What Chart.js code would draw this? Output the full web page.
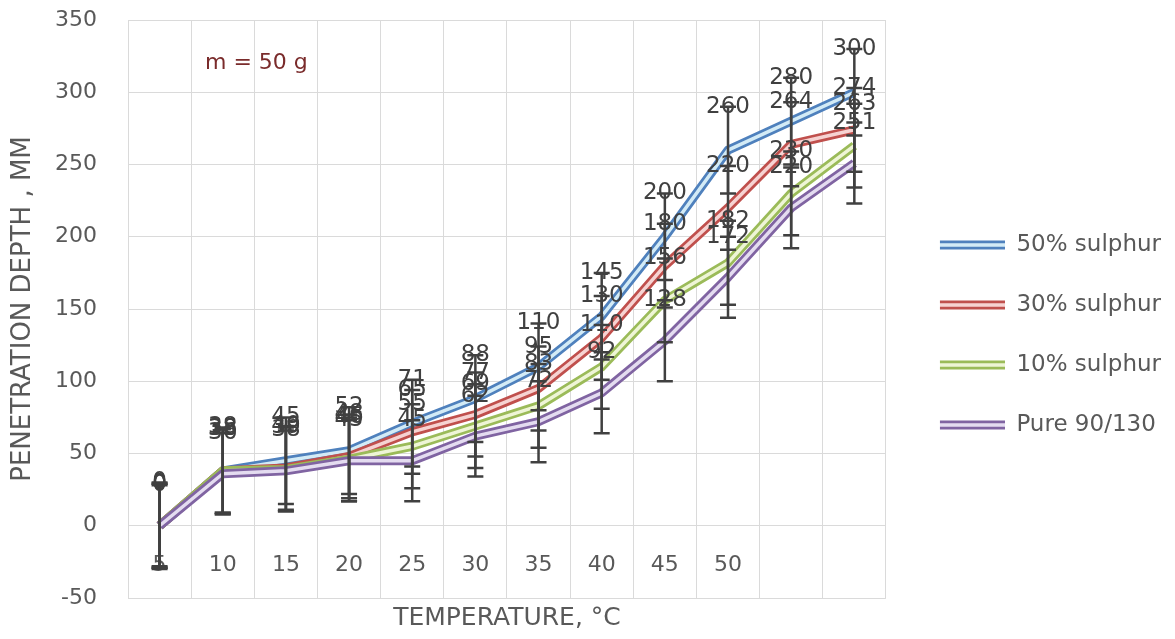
<!DOCTYPE html>
<html>
<head>
<meta charset="utf-8">
<script src="https://cdn.jsdelivr.net/npm/chart.js@4.4.1/dist/chart.umd.min.js"></script>
<style>
    html, body { margin: 0; padding: 0; background: #ffffff; }
</style>
</head>
<body>
<canvas id="chart" width="1175" height="639"></canvas>
<script>
// Temperature categories (the last two have no label in the original).
var temperatures = ['5', '10', '15', '20', '25', '30', '35', '40', '45', '50', '', ''];

// Penetration depth per binder.
var sulphur50 = [0, 38, 45, 52, 71, 88, 110, 145, 200, 260, 280, 300];
var sulphur30 = [0, 38, 40, 48, 65, 77, 95, 130, 180, 220, 264, 274];
var sulphur10 = [0, 38, 39, 46, 55, 69, 83, 110, 156, 182, 230, 263];
var pure90130 = [0, 36, 38, 45, 45, 62, 72, 92, 128, 172, 220, 251];

// Error bar size (+/-) per series.
var errorMargins = [30, 29, 29, 28];

var seriesNames = ['50% sulphur', '30% sulphur', '10% sulphur', 'Pure 90/130'];
var seriesValues = [sulphur50, sulphur30, sulphur10, pure90130];

// Double line look: dark outer stroke, light inner stroke.
var outerColors = ['#4f81bd', '#c0504d', '#9bbb59', '#8064a2'];
var innerColors = ['#d3ebf6', '#f6d3d2', '#eef5d6', '#e4dcf0'];

var FONT = 'DejaVu Sans';
var TEXT_GRAY = '#595959';
var DARK = '#404040';
var NONE = 'rgba(0,0,0,0)';

Chart.defaults.font.family = FONT;

// Legend swatch: double line drawn on the right part of a small canvas.
function legendSwatch(s) {
    var c = document.createElement('canvas');
    c.width = 82;
    c.height = 12;
    var g = c.getContext('2d');
    g.fillStyle = outerColors[s];
    g.fillRect(17, 1.5, 65, 9);
    g.fillStyle = innerColors[s];
    g.fillRect(17, 4.25, 65, 3.5);
    return c;
}

var datasets = [];
seriesValues.forEach(function (values, s) {
    datasets.push({
        label: seriesNames[s],
        data: values,
        borderColor: outerColors[s],
        backgroundColor: outerColors[s],
        borderWidth: 9,
        borderJoinStyle: 'round',
        pointRadius: 0,
        order: 8 - 2 * s
    });
    datasets.push({
        label: seriesNames[s] + ' inner',
        data: values,
        borderColor: innerColors[s],
        backgroundColor: innerColors[s],
        borderWidth: 3.5,
        borderJoinStyle: 'round',
        pointRadius: 0,
        order: 7 - 2 * s
    });
});

// Error bars, value labels at the top caps, and the "m = 50 g" note.
var errorBarsAndLabels = {
    id: 'errorBarsAndLabels',
    afterDatasetsDraw: function (chart) {
        var ctx = chart.ctx;
        var xScale = chart.scales.x;
        var yScale = chart.scales.y;
        var area = chart.chartArea;

        ctx.save();
        ctx.strokeStyle = DARK;
        ctx.lineWidth = 2.5;
        seriesValues.forEach(function (values, s) {
            var err = errorMargins[s];
            values.forEach(function (v, i) {
                var px = xScale.getPixelForValue(i);
                var top = yScale.getPixelForValue(v + err);
                var bottom = yScale.getPixelForValue(v - err);
                ctx.beginPath();
                ctx.moveTo(px, top);
                ctx.lineTo(px, bottom);
                ctx.moveTo(px - 8, top);
                ctx.lineTo(px + 8, top);
                ctx.moveTo(px - 8, bottom);
                ctx.lineTo(px + 8, bottom);
                ctx.stroke();
            });
        });

        ctx.fillStyle = DARK;
        ctx.font = '23px "' + FONT + '"';
        ctx.textAlign = 'center';
        ctx.textBaseline = 'middle';
        seriesValues.forEach(function (values, s) {
            var err = errorMargins[s];
            values.forEach(function (v, i) {
                ctx.fillText(String(v), xScale.getPixelForValue(i), yScale.getPixelForValue(v + err));
            });
        });

        ctx.fillStyle = '#7a2b2b';
        ctx.font = '22px "' + FONT + '"';
        ctx.textAlign = 'left';
        ctx.fillText('m = 50 g', area.left + 77, area.top + 43);
        ctx.restore();
    }
};

new Chart(document.getElementById('chart').getContext('2d'), {
    type: 'line',
    data: {
        labels: temperatures,
        datasets: datasets
    },
    options: {
        responsive: false,
        animation: false,
        layout: {
            padding: { top: 20, left: 0, right: 4, bottom: 0 }
        },
        plugins: {
            tooltip: { enabled: false },
            legend: {
                position: 'right',
                maxWidth: 290,
                title: {
                    display: true,
                    text: ' ',
                    font: { size: 10, lineHeight: 1 },
                    padding: { top: 1, bottom: 0 }
                },
                labels: {
                    usePointStyle: true,
                    pointStyleWidth: 82,
                    padding: 37,
                    color: TEXT_GRAY,
                    font: { family: FONT, size: 23 },
                    generateLabels: function () {
                        return seriesNames.map(function (name, s) {
                            return {
                                text: name,
                                pointStyle: legendSwatch(s),
                                fillStyle: NONE,
                                strokeStyle: NONE,
                                lineWidth: 0,
                                hidden: false,
                                fontColor: TEXT_GRAY,
                                datasetIndex: s * 2
                            };
                        });
                    }
                }
            },
            title: {
                display: true,
                text: 'TEMPERATURE, °C',
                position: 'bottom',
                fullSize: false,
                color: TEXT_GRAY,
                font: { family: FONT, size: 25, weight: 'normal' },
                padding: { top: 5, bottom: 6 }
            }
        },
        scales: {
            x: {
                type: 'category',
                position: { y: 0 },
                offset: true,
                grid: { offset: true, color: '#dadada', drawTicks: true, tickLength: 20, tickColor: NONE },
                border: { display: false },
                ticks: {
                    padding: 6,
                    autoSkip: false,
                    maxRotation: 0,
                    color: TEXT_GRAY,
                    font: { family: FONT, size: 22 }
                }
            },
            y: {
                min: -50,
                max: 350,
                grid: { color: '#dadada', drawTicks: true, tickLength: 26, tickColor: NONE },
                border: { display: false },
                ticks: {
                    stepSize: 50,
                    padding: 5,
                    color: TEXT_GRAY,
                    font: { family: FONT, size: 22 }
                },
                title: {
                    display: true,
                    text: 'PENETRATION DEPTH , MM',
                    color: TEXT_GRAY,
                    font: { family: FONT, size: 26 },
                    padding: { top: 8, bottom: 0 }
                },
                afterFit: function (scale) {
                    scale.width = 128;
                }
            }
        }
    },
    plugins: [errorBarsAndLabels]
});
</script>
</body>
</html>
